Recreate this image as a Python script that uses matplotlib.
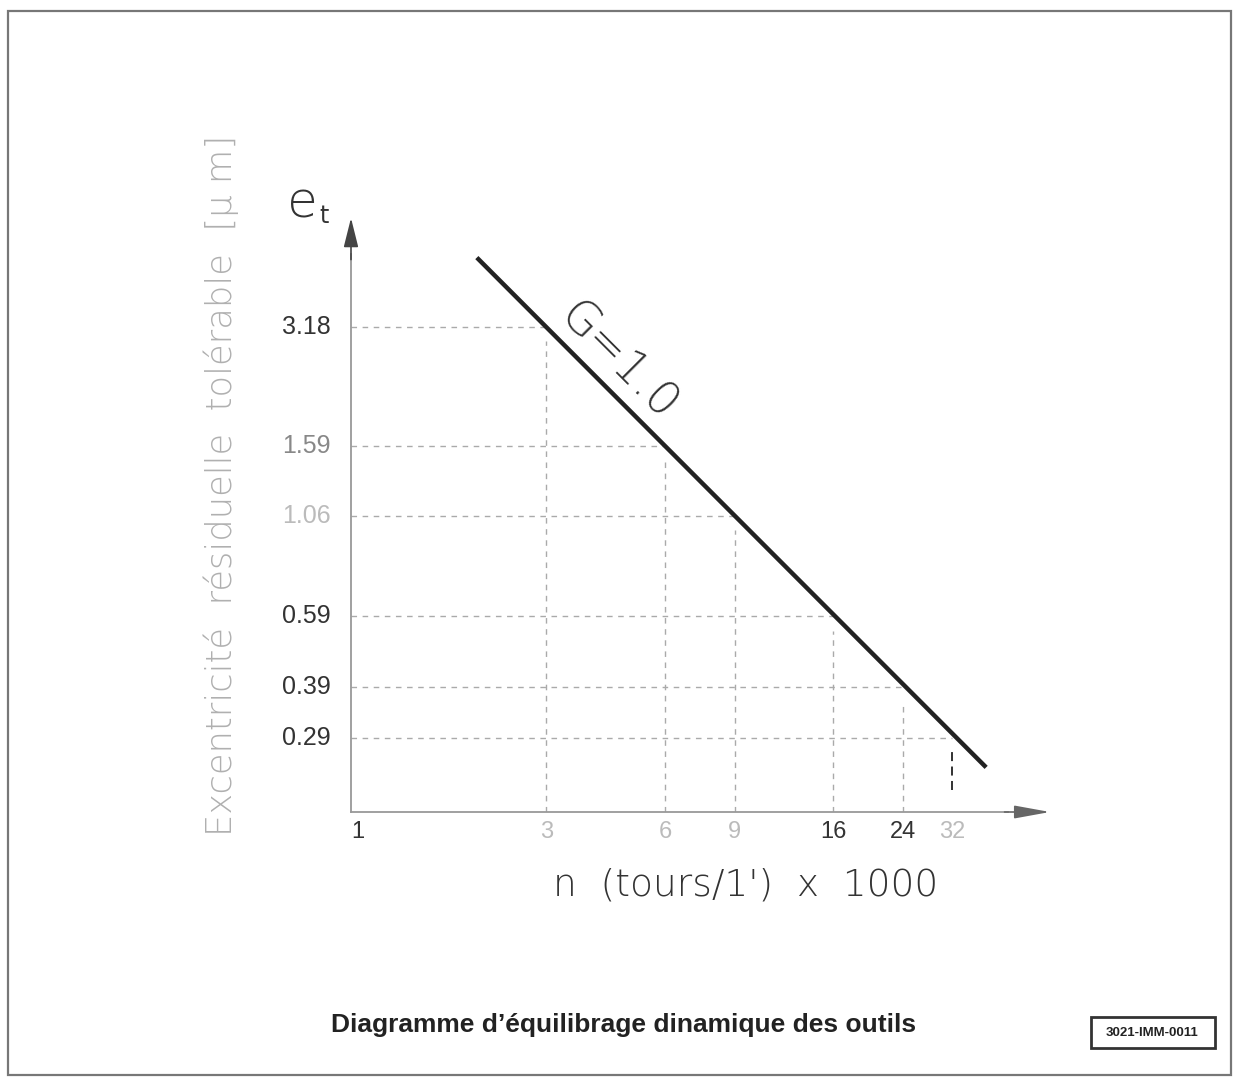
import matplotlib
matplotlib.use("Agg")
import matplotlib.pyplot as plt
from matplotlib.patches import Rectangle
import numpy as np

# ---- data ----
x_ticks = [1, 3, 6, 9, 16, 24, 32]
x_tick_labels = ["1", "3", "6", "9", "16", "24", "32"]
x_tick_colors = ["#333333", "#bbbbbb", "#bbbbbb", "#bbbbbb", "#333333", "#333333", "#bbbbbb"]
y_ticks = [3.18, 1.59, 1.06, 0.59, 0.39, 0.29]
y_tick_labels = ["3.18", "1.59", "1.06", "0.59", "0.39", "0.29"]
y_tick_colors = ["#333333", "#888888", "#bbbbbb", "#333333", "#333333", "#333333"]
grid_x = [3, 6, 9, 16, 24]
grid_y = [3.18, 1.59, 1.06, 0.59, 0.39]
last_x = 32
last_y = 0.29
last_seg = [0.215, 0.268]
line_x = [2.0, 39.0]
line_y = [4.75, 0.245]

W, H = 1238, 1077
fig = plt.figure(figsize=(W / 100, H / 100), dpi=100)
fig.patch.set_facecolor("white")

def fx(px):
    return px / W

def fy(py):
    return 1 - py / H

# axes geometry (pixels): origin (351, 812), top 218, right 1050
ax = fig.add_axes([fx(351), fy(812), fx(1050) - fx(351), fy(218) - fy(812)])
ax.set_xscale("log")
ax.set_yscale("log")
ax.set_xlim(0.960, 56.6)
ax.set_ylim(0.189, 5.98)
for s in ax.spines.values():
    s.set_visible(False)
ax.set_xticks([])
ax.set_yticks([])
ax.minorticks_off()
ax.set_facecolor("none")

gcol = "#aaaaaa"
dash = (0, (4, 4))
# horizontal + vertical grid lines
for gx, gy in zip(grid_x, grid_y):
    ax.plot([0.960, gx], [gy, gy], color=gcol, lw=1.0, linestyle=dash)
    ax.plot([gx, gx], [0.189, gy * 0.92], color=gcol, lw=1.0, linestyle=dash)
ax.plot([0.960, last_x], [last_y, last_y], color=gcol, lw=1.0, linestyle=dash)
ax.plot([last_x, last_x], list(last_seg), color="#222222", lw=1.3, linestyle=(0, (5, 3)))

# main line
ax.plot(line_x, line_y, color="#222222", lw=3.2, solid_capstyle="butt")

# axes lines
ax.plot([0, 0], [0, 0.94], transform=ax.transAxes, color="#999999", lw=1.3, clip_on=False)
ax.plot([0, 0.94], [0, 0], transform=ax.transAxes, color="#999999", lw=1.3, clip_on=False)
ax.annotate("", xy=(0, 1.0), xytext=(0, 0.93), xycoords="axes fraction",
            arrowprops=dict(arrowstyle="-|>,head_length=1.8,head_width=0.45",
                            color="#444444", lw=1.2, shrinkA=0, shrinkB=0))
ax.annotate("", xy=(1.0, 0), xytext=(0.935, 0), xycoords="axes fraction",
            arrowprops=dict(arrowstyle="-|>,head_length=2.2,head_width=0.4",
                            color="#666666", lw=1.2, shrinkA=0, shrinkB=0))

# tick labels
fam = ["Liberation Sans", "DejaVu Sans"]
for xv, lab, c in zip(x_ticks, x_tick_labels, x_tick_colors):
    ax.text(xv, 0.168, lab, ha="center", va="center", fontsize=17, color=c,
            family=fam, clip_on=False)
for yv, lab, c in zip(y_ticks, y_tick_labels, y_tick_colors):
    ax.text(0.854, yv, lab, ha="right", va="center", fontsize=18, color=c,
            family=fam, clip_on=False)

# G=1.0 label
ax.text(4.55, 2.6, "G=1.0", rotation=-45, rotation_mode="anchor", ha="center", va="center",
        fontsize=33, color="#333333", family=["DejaVu Sans"], fontweight="light")

# axis labels
fig.text(fx(221), fy(485), "Excentricité  résiduelle  tolérable  [μ m]", rotation=90,
         ha="center", va="center", fontsize=25.5, color="#b0b0b0", family=["DejaVu Sans"],
         fontweight="light")
fig.text(fx(302), fy(204), "e", ha="center", va="center", fontsize=36, color="#333333",
         family=["DejaVu Sans"], fontweight="light")
fig.text(fx(324), fy(216), "t", ha="center", va="center", fontsize=17, color="#333333",
         family=["DejaVu Sans"])
fig.text(fx(746), fy(885), "n  (tours/1')  x  1000", ha="center", va="center", fontsize=27,
         color="#333333", family=["DejaVu Sans"], fontweight="light")

# title
fig.text(fx(624), fy(1025), "Diagramme d’équilibrage dinamique des outils", ha="center",
         va="center", fontsize=19, fontweight="bold", color="#222222", family=fam)

# code box
fig.patches.append(Rectangle((fx(1091), fy(1048)), fx(1215) - fx(1091), fy(1017) - fy(1048),
                             transform=fig.transFigure, fill=False, edgecolor="#333333", lw=2))
fig.text(fx(1152), fy(1033), "3021-IMM-0011", ha="center", va="center", fontsize=9.5,
         fontweight="bold", color="#222222", family=fam)

# page frame
fig.patches.append(Rectangle((fx(8), fy(1075)), fx(1231) - fx(8), fy(11) - fy(1075),
                             transform=fig.transFigure, fill=False, edgecolor="#777777", lw=1.6))

fig.savefig("out.png", dpi=100)
